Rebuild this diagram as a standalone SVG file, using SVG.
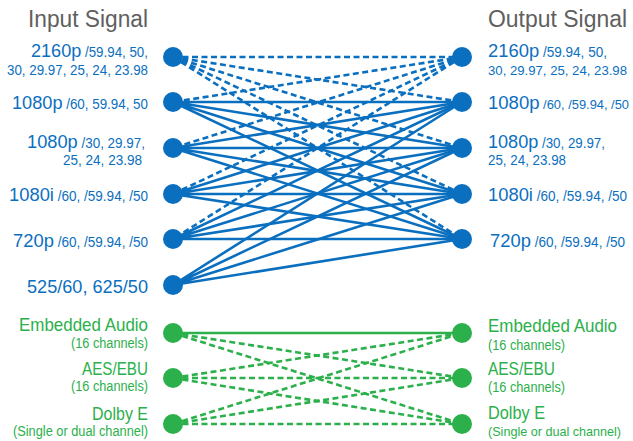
<svg xmlns="http://www.w3.org/2000/svg" width="633" height="441" viewBox="0 0 633 441">
<style>
text{font-family:"Liberation Sans",Arial,sans-serif}
.t{fill:#606060;font-size:23px}
.b{fill:#0b6fbf}
.g{fill:#2bb04b}
.L{font-size:19px}
.s{font-size:14px}
.s2{font-size:13px}
.e{text-anchor:end}
.cb{stroke:#0b6fbf;stroke-width:2.6;fill:none}
.cg{stroke:#2bb04b;stroke-width:2.6;fill:none}
.d{stroke-dasharray:6 3.5}
</style>
<rect width="633" height="441" fill="#fff"/>
<g id="connectors">
<g class="cb d">
<path d="M173 57L462 57M173 57L462 102M173 57L462 148M173 57L462 194M173 57L462 239"/>
<path d="M462 57L173 102M462 57L173 148M462 57L173 194M462 57L173 239"/>
</g>
<g class="cb">
<path d="M173 102L462 102M173 102L462 148M173 102L462 194M173 102L462 239"/>
<path d="M173 148L462 102M173 148L462 148M173 148L462 194M173 148L462 239"/>
<path d="M173 194L462 102M173 194L462 148M173 194L462 194M173 194L462 239"/>
<path d="M173 239L462 102M173 239L462 148M173 239L462 194M173 239L462 239"/>
<path d="M173 285L462 102M173 285L462 148M173 285L462 194M173 285L462 239"/>
</g>
<path class="cg" d="M173 333L462 333"/>
<g class="cg d">
<path d="M173 333L462 378M173 333L462 424"/>
<path d="M173 378L462 333M173 378L462 378M173 378L462 424"/>
<path d="M173 424L462 333M173 424L462 378M173 424L462 424"/>
</g>
</g>
<g id="title-input"><text class="t e" x="148" y="27" textLength="120" lengthAdjust="spacingAndGlyphs">Input Signal</text></g>
<g id="title-output"><text class="t" x="488" y="27" textLength="139" lengthAdjust="spacingAndGlyphs">Output Signal</text></g>

<g id="in-2160p" class="b">
<circle cx="173" cy="57" r="10"/>
<text class="e" x="148" y="57" textLength="117" lengthAdjust="spacingAndGlyphs"><tspan class="L">2160p</tspan><tspan class="s"> /59.94, 50,</tspan></text>
<text class="e s" x="148" y="75" textLength="141" lengthAdjust="spacingAndGlyphs">30, 29.97, 25, 24, 23.98</text>
</g>
<g id="in-1080p60" class="b">
<circle cx="173" cy="102" r="10"/>
<text class="e" x="148" y="109" textLength="136" lengthAdjust="spacingAndGlyphs"><tspan class="L">1080p</tspan><tspan class="s"> /60, 59.94, 50</tspan></text>
</g>
<g id="in-1080p30" class="b">
<circle cx="173" cy="148" r="10"/>
<text class="e" x="145" y="148" textLength="118" lengthAdjust="spacingAndGlyphs"><tspan class="L">1080p</tspan><tspan class="s"> /30, 29.97,</tspan></text>
<text class="e s" x="142" y="165" textLength="79" lengthAdjust="spacingAndGlyphs">25, 24, 23.98</text>
</g>
<g id="in-1080i" class="b">
<circle cx="173" cy="194" r="10"/>
<text class="e" x="148" y="201" textLength="139" lengthAdjust="spacingAndGlyphs"><tspan class="L">1080i</tspan><tspan class="s"> /60, /59.94, /50</tspan></text>
</g>
<g id="in-720p" class="b">
<circle cx="173" cy="239" r="10"/>
<text class="e" x="148" y="247" textLength="135" lengthAdjust="spacingAndGlyphs"><tspan class="L">720p</tspan><tspan class="s"> /60, /59.94, /50</tspan></text>
</g>
<g id="in-525" class="b">
<circle cx="173" cy="285" r="10"/>
<text class="e L" x="148" y="293" textLength="121" lengthAdjust="spacingAndGlyphs">525/60, 625/50</text>
</g>

<g id="out-2160p" class="b">
<circle cx="462" cy="57" r="10"/>
<text x="488" y="57" textLength="119" lengthAdjust="spacingAndGlyphs"><tspan class="L">2160p</tspan><tspan class="s"> /59.94, 50,</tspan></text>
<text class="s2" x="488" y="75" textLength="139" lengthAdjust="spacingAndGlyphs">30, 29.97, 25, 24, 23.98</text>
</g>
<g id="out-1080p60" class="b">
<circle cx="462" cy="102" r="10"/>
<text x="488" y="109" textLength="141" lengthAdjust="spacingAndGlyphs"><tspan style="font-size:18px">1080p</tspan><tspan style="font-size:12.5px"> /60, /59.94, /50</tspan></text>
</g>
<g id="out-1080p30" class="b">
<circle cx="462" cy="148" r="10"/>
<text x="488" y="148" textLength="117" lengthAdjust="spacingAndGlyphs"><tspan class="L">1080p</tspan><tspan class="s"> /30, 29.97,</tspan></text>
<text class="s" x="488" y="165" textLength="78" lengthAdjust="spacingAndGlyphs">25, 24, 23.98</text>
</g>
<g id="out-1080i" class="b">
<circle cx="462" cy="194" r="10"/>
<text x="488" y="201" textLength="139" lengthAdjust="spacingAndGlyphs"><tspan class="L">1080i</tspan><tspan class="s"> /60, /59.94, /50</tspan></text>
</g>
<g id="out-720p" class="b">
<circle cx="462" cy="239" r="10"/>
<text x="490" y="247" textLength="135" lengthAdjust="spacingAndGlyphs"><tspan class="L">720p</tspan><tspan class="s"> /60, /59.94, /50</tspan></text>
</g>

<g id="in-embedded" class="g">
<circle cx="173" cy="333" r="10"/>
<text class="e L" x="148" y="331" textLength="129" lengthAdjust="spacingAndGlyphs">Embedded Audio</text>
<text class="e s" x="148" y="348" textLength="77" lengthAdjust="spacingAndGlyphs">(16 channels)</text>
</g>
<g id="in-aes" class="g">
<circle cx="173" cy="378" r="10"/>
<text class="e L" x="148" y="375" textLength="66" lengthAdjust="spacingAndGlyphs">AES/EBU</text>
<text class="e s" x="148" y="391" textLength="77" lengthAdjust="spacingAndGlyphs">(16 channels)</text>
</g>
<g id="in-dolby" class="g">
<circle cx="173" cy="424" r="10"/>
<text class="e L" x="148" y="420" textLength="56" lengthAdjust="spacingAndGlyphs">Dolby E</text>
<text class="e s" x="148" y="436" textLength="135" lengthAdjust="spacingAndGlyphs">(Single or dual channel)</text>
</g>

<g id="out-embedded" class="g">
<circle cx="462" cy="333" r="10"/>
<text class="L" x="488" y="332" textLength="129" lengthAdjust="spacingAndGlyphs">Embedded Audio</text>
<text class="s" x="488" y="350" textLength="77" lengthAdjust="spacingAndGlyphs">(16 channels)</text>
</g>
<g id="out-aes" class="g">
<circle cx="462" cy="378" r="10"/>
<text class="L" x="488" y="375" textLength="67" lengthAdjust="spacingAndGlyphs">AES/EBU</text>
<text class="s" x="488" y="392" textLength="77" lengthAdjust="spacingAndGlyphs">(16 channels)</text>
</g>
<g id="out-dolby" class="g">
<circle cx="462" cy="424" r="10"/>
<text class="L" x="488" y="419" textLength="57" lengthAdjust="spacingAndGlyphs">Dolby E</text>
<text class="s2" x="488" y="436" textLength="133" lengthAdjust="spacingAndGlyphs">(Single or dual channel)</text>
</g>
</svg>
